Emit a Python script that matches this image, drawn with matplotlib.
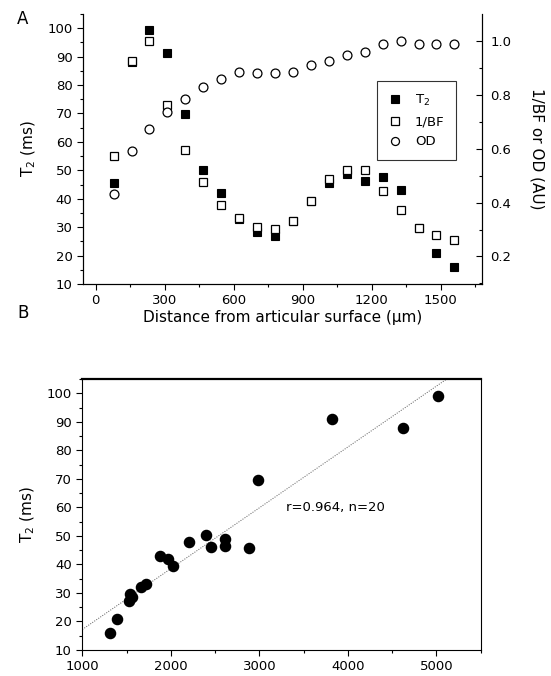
import numpy as np
import matplotlib
matplotlib.use("Agg")
import matplotlib.pyplot as plt
from matplotlib.ticker import MultipleLocator, FormatStrFormatter

plt.rcParams['font.family'] = ['DejaVu Sans']

# ---- Panel A data ----
distance_um = [78, 156, 234, 312, 390, 468, 546, 624, 702, 780,
               858, 936, 1014, 1092, 1170, 1248, 1326, 1404, 1482, 1560]
t2_ms = [45.7, 88.0, 99.2, 91.1, 69.8, 50.0, 41.9, 33.0, 28.2, 27.0,
         32.0, 39.3, 45.7, 48.8, 46.4, 47.8, 42.9, 29.6, 21.0, 15.9]
inv_bf = [0.574, 0.924, 1.000, 0.761, 0.594, 0.477, 0.392, 0.342, 0.311, 0.302,
          0.331, 0.405, 0.488, 0.520, 0.520, 0.442, 0.374, 0.306, 0.278, 0.262]
od = [0.432, 0.590, 0.673, 0.735, 0.783, 0.830, 0.859, 0.883, 0.881, 0.881,
      0.883, 0.911, 0.926, 0.946, 0.957, 0.987, 1.000, 0.987, 0.987, 0.987]

# ---- Panel B data ----
b_x = [1311, 1394, 1529, 1563, 1544, 1660, 1717, 1874, 1968, 2028,
       2205, 2392, 2448, 2614, 2617, 2880, 2981, 3815, 4623, 5013]
b_t2 = [16.1, 21.0, 27.0, 28.5, 29.6, 32.2, 33.0, 43.0, 41.9, 39.5,
        47.9, 50.2, 46.2, 49.0, 46.5, 45.6, 69.6, 90.9, 87.8, 99.2]
b_text = "r=0.964, n=20"

fig = plt.figure(figsize=(5.51, 6.76), dpi=100)

tick_fs = 9.5
lab_fs = 11

# ---------------- Panel A ----------------
axA = fig.add_axes([0.1506, 0.5799, 0.8748 - 0.1506, 0.9793 - 0.5799])
axA2 = axA.twinx()
axA.set_xlim(-55, 1680)
axA.set_ylim(10, 105)
axA2.set_ylim(0.098, 1.099)

axA.plot(distance_um, t2_ms, 's', color='black', ms=5.8, mec='black', mew=0.8, zorder=3, label='T$_2$')
axA2.plot(distance_um, inv_bf, 's', mfc='white', mec='black', ms=5.8, mew=0.9, zorder=4, label='1/BF')
axA2.plot(distance_um, od, 'o', mfc='white', mec='black', ms=6.4, mew=0.9, zorder=4, label='OD')

axA.set_zorder(0)
axA2.set_zorder(1)
axA2.patch.set_visible(False)

for ax in (axA, axA2):
    ax.spines['top'].set_visible(False)
axA.xaxis.set_major_locator(MultipleLocator(300))
axA.xaxis.set_minor_locator(MultipleLocator(150))
axA.yaxis.set_major_locator(MultipleLocator(10))
axA.yaxis.set_minor_locator(MultipleLocator(5))
axA2.yaxis.set_major_locator(MultipleLocator(0.2))
axA2.yaxis.set_minor_locator(MultipleLocator(0.1))
axA.tick_params(axis='both', which='major', direction='out', length=4, width=0.8, labelsize=tick_fs)
axA.tick_params(axis='both', which='minor', direction='out', length=2.5, width=0.8)
axA2.tick_params(axis='y', which='major', direction='in', length=4, width=0.8, labelsize=tick_fs, pad=6)
axA2.tick_params(axis='y', which='minor', direction='in', length=2.5, width=0.8)
axA2.yaxis.set_major_formatter(FormatStrFormatter('%.1f'))

axA.set_ylabel('T$_2$ (ms)', fontsize=lab_fs, labelpad=7)
axA2.set_ylabel('1/BF or OD (AU)', fontsize=lab_fs, rotation=270, labelpad=24)
axA.set_xlabel('Distance from articular surface (\u00b5m)', fontsize=lab_fs, labelpad=2)

h1, l1 = axA.get_legend_handles_labels()
h2, l2 = axA2.get_legend_handles_labels()
leg = axA2.legend(h1 + h2, l1 + l2, loc='upper left', bbox_to_anchor=(0.736, 0.752),
                  frameon=True, fancybox=False, edgecolor='black', fontsize=tick_fs,
                  handletextpad=1.0, borderpad=0.9, labelspacing=0.55, handlelength=1.0,
                  borderaxespad=0, markerscale=0.9)
leg.get_frame().set_linewidth(0.8)

fig.text(0.031, 0.972, 'A', fontsize=12, ha='left', va='center')

# ---------------- Panel B ----------------
axB = fig.add_axes([0.1494, 0.0385, 0.8724 - 0.1494, 0.4393 - 0.0385])
axB.set_xlim(1000, 5500)
axB.set_ylim(10, 105)
axB.plot(b_x, b_t2, 'o', color='black', ms=7.3, zorder=3)
coef = np.polyfit(b_x, b_t2, 1)
xx = np.array(axB.get_xlim())
axB.plot(xx, np.polyval(coef, xx), linestyle=(0, (1, 1.5)), color='#555555', lw=0.7, zorder=2)
axB.set_xlim(1000, 5500)
axB.text(3300, 59.8, b_text, fontsize=tick_fs, ha='left', va='center')

axB.xaxis.set_major_locator(MultipleLocator(1000))
axB.xaxis.set_minor_locator(MultipleLocator(500))
axB.yaxis.set_major_locator(MultipleLocator(10))
axB.yaxis.set_minor_locator(MultipleLocator(5))
axB.tick_params(axis='both', which='major', direction='out', length=4, width=0.8, labelsize=tick_fs)
axB.tick_params(axis='both', which='minor', direction='out', length=2.5, width=0.8)
axB.spines['top'].set_linewidth(1.6)
axB.set_ylabel('T$_2$ (ms)', fontsize=lab_fs, labelpad=7)

fig.text(0.031, 0.537, 'B', fontsize=12, ha='left', va='center')

fig.savefig('out.png', dpi=100)
